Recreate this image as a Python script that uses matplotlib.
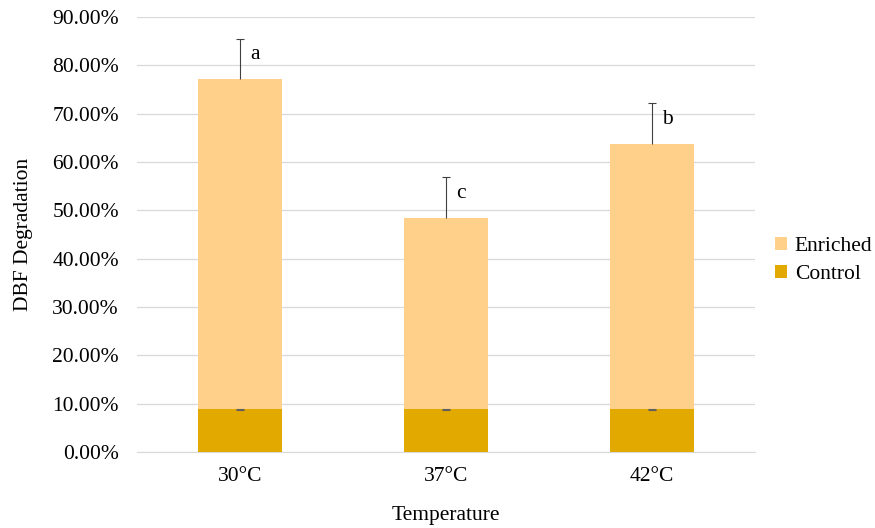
import matplotlib.pyplot as plt
import numpy as np

plt.rcParams['font.family'] = ['Liberation Serif', 'DejaVu Serif']

temps = ['30°C', '37°C', '42°C']
enriched = [77.2, 48.4, 63.8]
enriched_err = [8.2, 8.4, 8.4]
control = [8.8, 8.8, 8.8]
control_err = [0.15, 0.15, 0.15]
letters = ['a', 'c', 'b']

fs = 15.5

fig = plt.figure(figsize=(8.75, 5.28), dpi=100)
ax = fig.add_axes([0.1566, 0.144, 0.706, 0.824])

x = np.arange(len(temps))
w = 0.405
ax.bar(x, enriched, w, color='#FFD08A', label='Enriched', zorder=2)
tops = np.array(enriched) + np.array(enriched_err)
ax.vlines(x, enriched, tops, color='#404040', linewidth=0.8, zorder=3)
ax.plot(x, tops, linestyle='none', marker='_', markersize=6,
        markeredgewidth=0.8, color='#404040', zorder=3)
ax.bar(x, control, w, color='#E2A900', label='Control', zorder=4)
ax.errorbar(x, control, yerr=control_err, fmt='none',
            ecolor='#606060', elinewidth=0.8, capsize=3, capthick=0.8, zorder=5)

for i, l in enumerate(letters):
    ax.text(x[i] + 0.05, enriched[i] + enriched_err[i] * 0.6, l,
            fontsize=fs, ha='left', va='center')

ax.set_xlim(-0.5, 2.5)
ax.set_ylim(0, 90)
ax.set_yticks(np.arange(0, 91, 10))
ax.set_yticklabels(['%.2f%%' % v for v in np.arange(0, 91, 10)], fontsize=fs)
ax.set_xticks(x)
ax.set_xticklabels(temps, fontsize=fs)
ax.tick_params(axis='y', length=0, pad=13)
ax.tick_params(axis='x', length=0, pad=11)
ax.grid(axis='y', color='#d9d9d9', linewidth=0.9, zorder=0)
ax.set_axisbelow(True)
for s in ['top', 'right', 'left']:
    ax.spines[s].set_visible(False)
ax.spines['bottom'].set_color('#d9d9d9')

ax.set_xlabel('Temperature', fontsize=fs, labelpad=14)
ax.set_ylabel('DBF Degradation', fontsize=fs, labelpad=14)

ax.legend(loc='center left', bbox_to_anchor=(1.002, 0.44), frameon=False,
          fontsize=fs, handlelength=0.55, handleheight=0.55, handletextpad=0.35,
          labelspacing=0.4)

fig.savefig('out.png', dpi=100)
